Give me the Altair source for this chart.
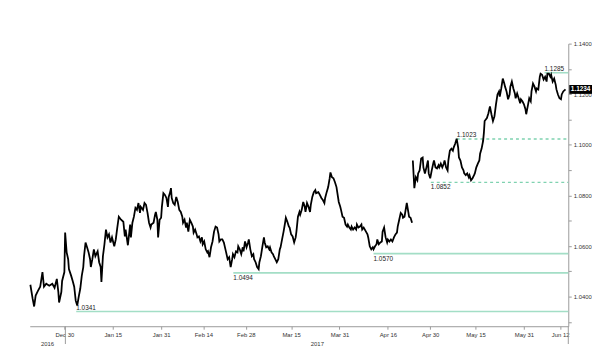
import altair as alt
import pandas as pd

# ---------------- data ----------------
DATES = [
    "2016-12-18T18:00", "2016-12-19T12:00", "2016-12-20T00:00", "2016-12-20T12:00", "2016-12-21T06:00",
    "2016-12-22T00:00", "2016-12-22T18:00", "2016-12-23T06:00", "2016-12-24T00:00", "2016-12-25T00:00",
    "2016-12-26T00:00", "2016-12-26T18:00", "2016-12-27T12:00", "2016-12-28T00:00", "2016-12-28T06:00",
    "2016-12-29T00:00", "2016-12-29T06:00", "2016-12-30T00:00", "2016-12-30T06:00", "2016-12-30T18:00",
    "2016-12-31T06:00", "2016-12-31T12:00", "2017-01-01T06:00", "2017-01-01T18:00", "2017-01-02T06:00",
    "2017-01-02T18:00", "2017-01-03T06:00", "2017-01-03T18:00", "2017-01-04T06:00", "2017-01-04T18:00",
    "2017-01-05T06:00", "2017-01-05T12:00", "2017-01-06T00:00", "2017-01-06T12:00", "2017-01-07T00:00",
    "2017-01-07T12:00", "2017-01-07T18:00", "2017-01-08T06:00", "2017-01-08T18:00", "2017-01-09T06:00",
    "2017-01-10T00:00", "2017-01-10T12:00", "2017-01-11T00:00", "2017-01-11T06:00", "2017-01-11T18:00",
    "2017-01-12T06:00", "2017-01-12T18:00", "2017-01-13T06:00", "2017-01-13T18:00", "2017-01-14T06:00",
    "2017-01-14T18:00", "2017-01-15T12:00", "2017-01-16T00:00", "2017-01-16T12:00", "2017-01-17T00:00",
    "2017-01-17T18:00", "2017-01-18T12:00", "2017-01-19T00:00", "2017-01-19T06:00", "2017-01-20T00:00",
    "2017-01-20T12:00", "2017-01-20T18:00", "2017-01-21T00:00", "2017-01-21T12:00", "2017-01-22T00:00",
    "2017-01-22T12:00", "2017-01-23T00:00", "2017-01-23T12:00", "2017-01-24T00:00", "2017-01-24T06:00",
    "2017-01-25T00:00", "2017-01-25T12:00", "2017-01-26T00:00", "2017-01-26T12:00", "2017-01-27T00:00",
    "2017-01-27T12:00", "2017-01-27T18:00", "2017-01-28T12:00", "2017-01-29T00:00", "2017-01-29T06:00",
    "2017-01-29T18:00", "2017-01-30T00:00", "2017-01-30T12:00", "2017-01-31T00:00", "2017-01-31T06:00",
    "2017-01-31T18:00", "2017-02-01T06:00", "2017-02-01T18:00", "2017-02-02T06:00", "2017-02-02T12:00",
    "2017-02-03T00:00", "2017-02-03T06:00", "2017-02-03T12:00", "2017-02-04T00:00", "2017-02-04T12:00",
    "2017-02-05T00:00", "2017-02-05T12:00", "2017-02-06T00:00", "2017-02-06T12:00", "2017-02-07T00:00",
    "2017-02-07T06:00", "2017-02-07T18:00", "2017-02-08T06:00", "2017-02-08T12:00", "2017-02-09T00:00",
    "2017-02-09T12:00", "2017-02-10T00:00", "2017-02-10T12:00", "2017-02-10T18:00", "2017-02-11T06:00",
    "2017-02-11T18:00", "2017-02-12T00:00", "2017-02-12T12:00", "2017-02-13T00:00", "2017-02-13T12:00",
    "2017-02-13T18:00", "2017-02-14T06:00", "2017-02-14T18:00", "2017-02-15T06:00", "2017-02-15T12:00",
    "2017-02-16T00:00", "2017-02-16T12:00", "2017-02-17T00:00", "2017-02-17T12:00", "2017-02-18T00:00",
    "2017-02-18T12:00", "2017-02-19T00:00", "2017-02-19T06:00", "2017-02-19T18:00", "2017-02-20T06:00",
    "2017-02-20T18:00", "2017-02-21T12:00", "2017-02-22T00:00", "2017-02-22T12:00", "2017-02-23T00:00",
    "2017-02-23T12:00", "2017-02-23T18:00", "2017-02-24T06:00", "2017-02-24T18:00", "2017-02-25T06:00",
    "2017-02-25T12:00", "2017-02-26T00:00", "2017-02-26T12:00", "2017-02-27T00:00", "2017-02-27T06:00",
    "2017-02-27T18:00", "2017-02-28T06:00", "2017-02-28T18:00", "2017-03-01T00:00", "2017-03-01T12:00",
    "2017-03-02T00:00", "2017-03-02T12:00", "2017-03-02T18:00", "2017-03-03T06:00", "2017-03-03T18:00",
    "2017-03-04T06:00", "2017-03-04T12:00", "2017-03-05T00:00", "2017-03-05T12:00", "2017-03-06T00:00",
    "2017-03-06T06:00", "2017-03-06T18:00", "2017-03-07T06:00", "2017-03-07T18:00", "2017-03-08T00:00",
    "2017-03-08T12:00", "2017-03-09T00:00", "2017-03-09T06:00", "2017-03-09T18:00", "2017-03-10T06:00",
    "2017-03-10T18:00", "2017-03-11T06:00", "2017-03-11T12:00", "2017-03-12T00:00", "2017-03-12T12:00",
    "2017-03-13T00:00", "2017-03-13T06:00", "2017-03-13T18:00", "2017-03-14T06:00", "2017-03-14T12:00",
    "2017-03-15T00:00", "2017-03-15T12:00", "2017-03-16T00:00", "2017-03-16T12:00", "2017-03-16T18:00",
    "2017-03-17T06:00", "2017-03-17T18:00", "2017-03-18T00:00", "2017-03-18T12:00", "2017-03-19T00:00",
    "2017-03-19T12:00", "2017-03-19T18:00", "2017-03-20T06:00", "2017-03-20T18:00", "2017-03-21T06:00",
    "2017-03-21T12:00", "2017-03-22T00:00", "2017-03-22T12:00", "2017-03-23T00:00", "2017-03-23T06:00",
    "2017-03-24T00:00", "2017-03-24T12:00", "2017-03-25T00:00", "2017-03-25T12:00", "2017-03-26T00:00",
    "2017-03-26T06:00", "2017-03-26T18:00", "2017-03-27T06:00", "2017-03-27T18:00", "2017-03-28T00:00",
    "2017-03-28T12:00", "2017-03-29T00:00", "2017-03-29T12:00", "2017-03-30T00:00", "2017-03-30T06:00",
    "2017-03-30T18:00", "2017-03-31T06:00", "2017-03-31T12:00", "2017-04-01T00:00", "2017-04-01T12:00",
    "2017-04-02T00:00", "2017-04-02T12:00", "2017-04-02T18:00", "2017-04-03T06:00", "2017-04-03T18:00",
    "2017-04-04T00:00", "2017-04-04T12:00", "2017-04-05T00:00", "2017-04-05T12:00", "2017-04-05T18:00",
    "2017-04-06T06:00", "2017-04-06T18:00", "2017-04-07T06:00", "2017-04-07T12:00", "2017-04-08T00:00",
    "2017-04-08T18:00", "2017-04-09T06:00", "2017-04-09T12:00", "2017-04-10T00:00", "2017-04-10T12:00",
    "2017-04-11T00:00", "2017-04-11T06:00", "2017-04-11T18:00", "2017-04-12T06:00", "2017-04-12T12:00",
    "2017-04-13T00:00", "2017-04-13T12:00", "2017-04-14T00:00", "2017-04-14T06:00", "2017-04-14T18:00",
    "2017-04-15T06:00", "2017-04-15T18:00", "2017-04-16T00:00", "2017-04-16T12:00", "2017-04-17T00:00",
    "2017-04-17T12:00", "2017-04-18T00:00", "2017-04-18T12:00", "2017-04-19T00:00", "2017-04-19T06:00",
    "2017-04-19T18:00", "2017-04-20T06:00", "2017-04-20T18:00", "2017-04-21T00:00", "2017-04-21T12:00",
    "2017-04-22T06:00", "2017-04-22T18:00", "2017-04-23T00:00", "2017-04-23T12:00", "2017-04-24T00:00",
    "2017-04-24T06:00", "2017-04-24T18:00", "2017-04-25T06:00", "2017-04-25T18:00", "2017-04-26T00:00",
    "2017-04-26T12:00", "2017-04-27T00:00", "2017-04-27T12:00", "2017-04-27T18:00", "2017-04-28T06:00",
    "2017-04-28T18:00", "2017-04-29T06:00", "2017-04-29T12:00", "2017-04-30T00:00", "2017-04-30T12:00",
    "2017-05-01T00:00", "2017-05-01T06:00", "2017-05-01T18:00", "2017-05-02T06:00", "2017-05-02T18:00",
    "2017-05-03T00:00", "2017-05-03T12:00", "2017-05-04T00:00", "2017-05-04T12:00", "2017-05-04T18:00",
    "2017-05-05T06:00", "2017-05-05T18:00", "2017-05-06T00:00", "2017-05-06T12:00", "2017-05-07T00:00",
    "2017-05-07T12:00", "2017-05-07T18:00", "2017-05-08T06:00", "2017-05-08T18:00", "2017-05-09T06:00",
    "2017-05-09T12:00", "2017-05-10T00:00", "2017-05-10T12:00", "2017-05-11T00:00", "2017-05-11T06:00",
    "2017-05-11T18:00", "2017-05-12T06:00", "2017-05-12T18:00", "2017-05-13T00:00", "2017-05-13T12:00",
    "2017-05-14T00:00", "2017-05-14T12:00", "2017-05-14T18:00", "2017-05-15T06:00", "2017-05-15T18:00",
    "2017-05-16T06:00", "2017-05-16T12:00", "2017-05-17T00:00", "2017-05-17T12:00", "2017-05-17T18:00",
    "2017-05-18T00:00", "2017-05-18T18:00", "2017-05-19T06:00", "2017-05-19T18:00", "2017-05-20T06:00",
    "2017-05-20T18:00", "2017-05-21T06:00", "2017-05-21T18:00", "2017-05-22T06:00", "2017-05-22T18:00",
    "2017-05-23T00:00", "2017-05-23T12:00", "2017-05-24T00:00", "2017-05-24T12:00", "2017-05-24T18:00",
    "2017-05-25T06:00", "2017-05-25T18:00", "2017-05-26T06:00", "2017-05-26T12:00", "2017-05-27T00:00",
    "2017-05-27T12:00", "2017-05-28T00:00", "2017-05-28T06:00", "2017-05-28T18:00", "2017-05-29T06:00",
    "2017-05-29T18:00", "2017-05-30T00:00", "2017-05-30T12:00", "2017-05-31T00:00", "2017-05-31T12:00",
    "2017-05-31T18:00", "2017-06-01T06:00", "2017-06-01T18:00", "2017-06-02T06:00", "2017-06-02T12:00",
    "2017-06-03T00:00", "2017-06-03T12:00", "2017-06-04T00:00", "2017-06-04T06:00", "2017-06-04T18:00",
    "2017-06-05T06:00", "2017-06-05T12:00", "2017-06-06T00:00", "2017-06-06T12:00", "2017-06-07T00:00",
    "2017-06-07T12:00", "2017-06-07T18:00", "2017-06-08T06:00", "2017-06-08T18:00", "2017-06-09T00:00",
    "2017-06-09T12:00", "2017-06-10T00:00", "2017-06-10T12:00", "2017-06-10T18:00", "2017-06-11T06:00",
    "2017-06-11T18:00", "2017-06-12T06:00", "2017-06-12T12:00", "2017-06-13T00:00", "2017-06-13T18:00",
]

VALUES = [
    1.0447, 1.0392, 1.0361, 1.0404, 1.0423, 1.0439, 1.0497, 1.0439, 1.0451, 1.0443,
    1.0451, 1.0435, 1.0470, 1.0419, 1.0377, 1.0419, 1.0462, 1.0497, 1.0653, 1.0575,
    1.0548, 1.0509, 1.0482, 1.0462, 1.0439, 1.0384, 1.0365, 1.0400, 1.0431, 1.0482,
    1.0517, 1.0560, 1.0614, 1.0595, 1.0575, 1.0548, 1.0517, 1.0548, 1.0587, 1.0560,
    1.0579, 1.0536, 1.0517, 1.0458, 1.0560, 1.0607, 1.0665, 1.0634, 1.0646, 1.0614,
    1.0634, 1.0599, 1.0626, 1.0673, 1.0716, 1.0704, 1.0696, 1.0638, 1.0665, 1.0603,
    1.0657, 1.0685, 1.0634, 1.0692, 1.0716, 1.0751, 1.0743, 1.0770, 1.0731, 1.0755,
    1.0743, 1.0770, 1.0763, 1.0731, 1.0692, 1.0673, 1.0685, 1.0692, 1.0724, 1.0735,
    1.0704, 1.0634, 1.0704, 1.0712, 1.0755, 1.0809, 1.0802, 1.0790, 1.0755, 1.0794,
    1.0813, 1.0829, 1.0790, 1.0770, 1.0763, 1.0794, 1.0774, 1.0743, 1.0735, 1.0716,
    1.0692, 1.0704, 1.0673, 1.0692, 1.0657, 1.0704, 1.0692, 1.0677, 1.0653, 1.0665,
    1.0646, 1.0634, 1.0638, 1.0618, 1.0634, 1.0607, 1.0618, 1.0587, 1.0575, 1.0579,
    1.0556, 1.0595, 1.0618, 1.0657, 1.0677, 1.0673, 1.0646, 1.0618, 1.0626, 1.0626,
    1.0614, 1.0575, 1.0548, 1.0556, 1.0517, 1.0548, 1.0568, 1.0556, 1.0579, 1.0575,
    1.0599, 1.0587, 1.0568, 1.0595, 1.0579, 1.0618, 1.0595, 1.0614, 1.0626, 1.0587,
    1.0560, 1.0568, 1.0548, 1.0536, 1.0517, 1.0509, 1.0536, 1.0560, 1.0599, 1.0634,
    1.0614, 1.0595, 1.0599, 1.0587, 1.0595, 1.0575, 1.0568, 1.0560, 1.0548, 1.0536,
    1.0548, 1.0587, 1.0595, 1.0626, 1.0657, 1.0692, 1.0712, 1.0696, 1.0677, 1.0673,
    1.0646, 1.0638, 1.0614, 1.0634, 1.0657, 1.0716, 1.0735, 1.0724, 1.0743, 1.0774,
    1.0755, 1.0735, 1.0770, 1.0755, 1.0735, 1.0763, 1.0794, 1.0813, 1.0821, 1.0809,
    1.0813, 1.0802, 1.0790, 1.0782, 1.0770, 1.0790, 1.0813, 1.0833, 1.0868, 1.0891,
    1.0872, 1.0868, 1.0852, 1.0833, 1.0813, 1.0774, 1.0755, 1.0743, 1.0716, 1.0712,
    1.0685, 1.0677, 1.0685, 1.0673, 1.0665, 1.0677, 1.0665, 1.0673, 1.0665, 1.0685,
    1.0673, 1.0677, 1.0685, 1.0665, 1.0673, 1.0657, 1.0646, 1.0634, 1.0599, 1.0587,
    1.0595, 1.0587, 1.0599, 1.0607, 1.0626, 1.0607, 1.0614, 1.0618, 1.0657, 1.0673,
    1.0634, 1.0614, 1.0626, 1.0618, 1.0626, 1.0618, 1.0634, 1.0646, 1.0653, 1.0677,
    1.0704, 1.0731, 1.0724, 1.0712, 1.0716, 1.0770, 1.0735, 1.0716, 1.0712, 1.0692,
    1.0938, 1.0829, 1.0872, 1.0860, 1.0887, 1.0899, 1.0946, 1.0950, 1.0911, 1.0887,
    1.0911, 1.0938, 1.0887, 1.0868, 1.0899, 1.0926, 1.0938, 1.0911, 1.0907, 1.0919,
    1.0911, 1.0926, 1.0911, 1.0926, 1.0938, 1.0911, 1.0899, 1.0938, 1.0977, 1.0985,
    1.0977, 1.0989, 1.1004, 1.1024, 1.0989, 1.0950, 1.0938, 1.0911, 1.0899, 1.0887,
    1.0880, 1.0887, 1.0872, 1.0880, 1.0860, 1.0868, 1.0880, 1.0887, 1.0911, 1.0926,
    1.0938, 1.0965, 1.0985, 1.1016, 1.1047, 1.1094, 1.1106, 1.1125, 1.1152, 1.1121,
    1.1094, 1.1113, 1.1160, 1.1199, 1.1211, 1.1191, 1.1223, 1.1262, 1.1242, 1.1230,
    1.1211, 1.1180, 1.1199, 1.1230, 1.1250, 1.1223, 1.1203, 1.1184, 1.1203, 1.1184,
    1.1164, 1.1180, 1.1172, 1.1160, 1.1141, 1.1121, 1.1152, 1.1184, 1.1172, 1.1211,
    1.1242, 1.1230, 1.1211, 1.1223, 1.1219, 1.1269, 1.1281, 1.1277, 1.1258, 1.1269,
    1.1250, 1.1281, 1.1281, 1.1269, 1.1277, 1.1250, 1.1262, 1.1238, 1.1219, 1.1199,
    1.1184, 1.1180, 1.1199, 1.1211, 1.1219,
]

GAP_FIRST_AFTER = "2017-04-24T06:00"   # weekend gap: new segment starts here

LEVELS = [1.0341, 1.0494, 1.0570, 1.0852, 1.1023, 1.1285]
LEVEL_FROM = ["2017-01-02T22:00", "2017-02-23T21:00", "2017-04-11T06:00",
              "2017-04-30T05:00", "2017-05-08T18:00", "2017-06-06T19:00"]
LEVEL_DASHED = [False, False, False, True, True, False]
LEVEL_LABEL_ABOVE = [True, False, False, False, True, True]

X_START = "2016-12-18T13:00"
X_END = "2017-06-14T16:00"
TICK_DATES = [(2016, 12, 30), (2017, 1, 15), (2017, 1, 31), (2017, 2, 14), (2017, 2, 28),
              (2017, 3, 15), (2017, 3, 31), (2017, 4, 16), (2017, 4, 30), (2017, 5, 15),
              (2017, 5, 31), (2017, 6, 12)]
Y_TICKS = [1.03, 1.04, 1.05, 1.06, 1.07, 1.08, 1.09, 1.10, 1.11, 1.12, 1.13, 1.14]
Y_MIN, Y_MAX = 1.0283, 1.14

YEARS = ["2016", "2017"]
YEAR_AT = ["2016-12-24T10:00", "2017-03-23T16:00"]
YEAR_BREAK = ["2016-12-30T08:00"]
LAST_PRICE_TEXT = "1.1234"

# ---------------- layout / style ----------------
W, H = 545, 286
FONT = "Liberation Sans"
LEVEL_SOLID = "#a3dec6"
LEVEL_DASH = "#7fd2b0"
GREY = "#9a9a9a"

line_df = pd.DataFrame({"date": DATES, "value": VALUES})
line_df["seg"] = ["a" if d < GAP_FIRST_AFTER else "b" for d in DATES]

lv = pd.DataFrame({"value": LEVELS, "date": LEVEL_FROM, "date2": X_END,
                   "dashed": LEVEL_DASHED, "above": LEVEL_LABEL_ABOVE})
lv["label"] = [f"{v:.4f}" for v in LEVELS]

xscale = alt.Scale(domain=[X_START, X_END])
yscale = alt.Scale(domain=[Y_MIN, Y_MAX], zero=False, nice=False)

xaxis = alt.Axis(
    values=[alt.DateTime(year=y, month=m, date=d) for (y, m, d) in TICK_DATES],
    format="%b %d", labelFontSize=6, labelColor="#333", labelFont=FONT,
    domainColor=GREY, tickColor=GREY, tickSize=3, labelPadding=2,
    grid=False, title=None, labelOverlap=False, labelFlush=False,
)
yaxis = alt.Axis(
    orient="right", values=Y_TICKS,
    labelExpr="round(datum.value*100) % 2 == 0 ? format(datum.value, '.4f') : ''",
    labelFontSize=6, labelColor="#333", labelFont=FONT,
    domainColor=GREY, tickColor=GREY, tickSize=3, labelPadding=2,
    grid=False, title=None, labelFlush=False, labelOverlap=False,
)


def X(field="date"):
    return alt.X(f"{field}:T", scale=xscale, axis=xaxis, title=None)


def Y(field="value"):
    return alt.Y(f"{field}:Q", scale=yscale, axis=yaxis, title=None)


line = alt.Chart(line_df).mark_line(color="black", strokeWidth=1.8).encode(
    x=X(), y=Y(), detail="seg:N", order="date:T"
)

solid = alt.Chart(lv[~lv["dashed"]]).mark_rule(color=LEVEL_SOLID, strokeWidth=1.6).encode(
    x=X(), x2="date2:T", y=Y()
)
dashed = alt.Chart(lv[lv["dashed"]]).mark_rule(
    color=LEVEL_DASH, strokeWidth=1.3, strokeDash=[3, 3]
).encode(x=X(), x2="date2:T", y=Y())

lab_above = alt.Chart(lv[lv["above"]]).mark_text(
    align="left", baseline="bottom", dy=-1, fontSize=6.5, font=FONT, color="#222"
).encode(x=X(), y=Y(), text="label:N")
lab_below = alt.Chart(lv[~lv["above"]]).mark_text(
    align="left", baseline="top", dy=2, fontSize=6.5, font=FONT, color="#222"
).encode(x=X(), y=Y(), text="label:N")

# last price box on the right axis
px = (Y_MAX - Y_MIN) / H
last_df = pd.DataFrame({"value": [VALUES[-1]], "lo": [VALUES[-1] - 4.5 * px],
                        "hi": [VALUES[-1] + 4.5 * px], "label": [LAST_PRICE_TEXT]})
last_box = alt.Chart(last_df).mark_rect(color="black").encode(
    x=alt.value(W + 1), x2=alt.value(W + 24), y=Y("lo"), y2="hi:Q"
)
last_txt = alt.Chart(last_df).mark_text(
    color="white", fontSize=6.5, fontWeight="bold", font=FONT, align="center", baseline="middle"
).encode(x=alt.value(W + 12.5), y=Y(), text="label:N")

# year row under the axis
year_df = pd.DataFrame({"date": YEAR_AT, "label": YEARS})
years = alt.Chart(year_df).mark_text(
    fontSize=6, font=FONT, color="#333", baseline="middle"
).encode(x=X(), y=alt.value(H + 18), text="label:N")

brk_df = pd.DataFrame({"date": YEAR_BREAK})
year_break = alt.Chart(brk_df).mark_rule(color=GREY, strokeWidth=1).encode(
    x=X(), y=alt.value(H), y2=alt.value(H + 18)
)
axis_ext = alt.Chart(brk_df).mark_rule(color=GREY, strokeWidth=1).encode(
    x=alt.value(W), y=alt.value(H), y2=alt.value(H + 18)
)

chart = alt.layer(
    solid, dashed, line, lab_above, lab_below, last_box, last_txt, years, year_break, axis_ext
).properties(
    width=W, height=H,
    background="white",
    autosize=alt.AutoSizeParams(type="none"),
    padding={"left": 22, "top": 34, "right": 24, "bottom": 22},
).configure_view(stroke=None, strokeWidth=0)

chart.save("out.html", embed_options={"renderer": "svg", "actions": False})
